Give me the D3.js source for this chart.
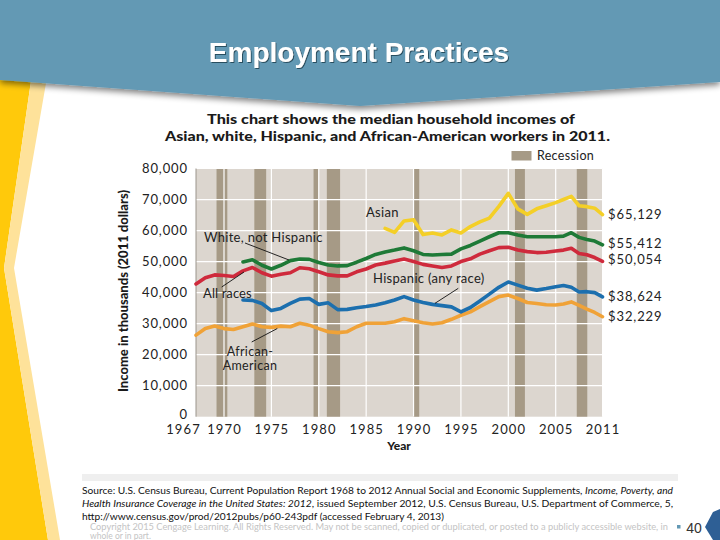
<!DOCTYPE html>
<html><head><meta charset="utf-8">
<script src="https://cdn.jsdelivr.net/npm/d3@7"></script>
<style>
html,body{margin:0;padding:0;background:#fff;}
svg{display:block;}
text{font-family:Lato,"DejaVu Sans",sans-serif;}
</style></head>
<body>
<svg id="c" width="720" height="540"></svg>
<script>
// ---------- DATA ----------
const yearTicks = [1967,1970,1975,1980,1985,1990,1995,2000,2005,2011];
const incomeTicks = [0,10000,20000,30000,40000,50000,60000,70000,80000];
const recessions = [[1969.2,1970.35],[1973.2,1974.45],[1979.45,1979.95],[1980.85,1982.25],[1989.95,1990.6],[2000.7,2001.75],[2007.7,2009.05]];

const yearsAllRaces = d3.range(1967, 2012);
const allRaces = [42800,44800,45700,45500,45200,47000,48100,46400,45300,45900,46400,48000,47700,46700,45700,45400,45400,46700,47600,48900,49500,50200,50800,50000,49100,48600,48100,48600,50000,50900,52400,53500,54500,54600,53700,53200,52900,53000,53400,53700,54300,52600,52200,51300,50054];
const africanAmerican = [26300,28400,29200,28400,28100,29000,29900,29000,28800,29200,29000,30100,29500,28400,27400,27100,27400,29000,30100,30100,30100,30600,31600,30900,30300,29900,30300,31400,32700,33800,35500,37100,38700,39200,38100,36800,36500,36100,36000,36300,37000,35900,34700,33600,32229];

const yearsFrom1972 = d3.range(1972, 2012);
const whiteNotHispanic = [49900,50600,48800,47600,48800,50300,50800,50700,49700,48900,48600,48700,49800,51000,52300,53100,53700,54400,53500,52300,52100,52300,52400,54100,55200,56600,58000,59300,59300,58600,58000,58000,58000,58000,58200,59300,57800,57100,56600,55412];
const hispanic = [37600,37500,36500,34200,34900,36500,37900,38100,36200,36700,34500,34600,35100,35500,36000,36700,37600,38700,37600,36800,36200,35800,35400,33800,35200,37300,39500,41700,43400,42400,41400,40800,41300,41900,42300,41700,40200,40300,40000,38624];

const yearsAsian = d3.range(1987, 2012);
const asian = [60700,59400,63100,63500,58700,59200,58600,60200,59200,61300,62800,64000,67800,72000,67000,65200,67000,68000,69000,70000,71000,68000,67700,67200,65129];

const seriesNames = ["Asian","White, not Hispanic","All races","Hispanic (any race)","African-American"];
const endLabels = ["$65,129","$55,412","$50,054","$38,624","$32,229"];

// ---------- SETUP ----------
const svg = d3.select("#c");
const defs = svg.append("defs");
const sh = defs.append("filter").attr("id","sh").attr("x","-10%").attr("y","-10%").attr("width","120%").attr("height","140%");
sh.append("feGaussianBlur").attr("in","SourceAlpha").attr("stdDeviation",3);
sh.append("feOffset").attr("dy",3).attr("result","b");
sh.append("feComponentTransfer").append("feFuncA").attr("type","linear").attr("slope",0.5);
const m = sh.append("feMerge"); m.append("feMergeNode"); m.append("feMergeNode").attr("in","SourceGraphic");
const ts = defs.append("filter").attr("id","ts");
ts.append("feDropShadow").attr("dx",1).attr("dy",1).attr("stdDeviation",0.6).attr("flood-color","#1d3a4a").attr("flood-opacity",0.8);

// slide decorations
svg.append("polygon").attr("points","0,60 34,60 4,268 48,540 0,540").attr("fill","#ffc90b");
svg.append("polygon").attr("points","34,60 50,60 14,268 60,540 48,540 4,268").attr("fill","#fee29a");
svg.append("polygon").attr("points","0,0 720,0 720,82 360,106 0,80").attr("fill","#6399b4").attr("filter","url(#sh)");
svg.append("text").attr("x",359).attr("y",62).attr("text-anchor","middle")
  .style("font-family","'Liberation Sans',Arial,sans-serif").style("font-weight","bold").style("font-size","28px")
  .attr("fill","#fff").attr("filter","url(#ts)").text("Employment Practices");

// ---------- SCALES ----------
const x = d3.scaleLinear().domain([1967,1970,2005,2011]).range([196,224,555.7,602.5]);
const y = d3.scaleLinear().domain([0,80000]).range([416.7,168.5]);
const colors = d3.scaleOrdinal().domain(seriesNames).range(["#f4cf27","#1e7a37","#cf2a3c","#1c6fae","#f0a237"]);

// chart titles
svg.append("text").attr("x",391).attr("y",124).attr("text-anchor","middle")
  .style("font-weight",900).style("font-size","13.5px").attr("fill","#1a1a1a")
  .attr("textLength",368).attr("lengthAdjust","spacingAndGlyphs").text("This chart shows the median household incomes of");
svg.append("text").attr("x",387.5).attr("y",141).attr("text-anchor","middle")
  .style("font-weight",900).style("font-size","13.5px").attr("fill","#1a1a1a")
  .attr("textLength",445).attr("lengthAdjust","spacingAndGlyphs").text("Asian, white, Hispanic, and African-American workers in 2011.");

// legend
svg.append("rect").attr("x",511.5).attr("y",151).attr("width",20).attr("height",9.5).attr("fill","#a69a86");
svg.append("text").attr("x",537).attr("y",159.5).style("font-size","12.5px").attr("fill","#222")
  .style("letter-spacing","0.3px").text("Recession");

// plot background
svg.append("rect").attr("x",x(1967)).attr("y",y(80000)).attr("width",x(2011)-x(1967)).attr("height",y(0)-y(80000)).attr("fill","#dcd6cf");

// recession bars
svg.append("g").selectAll("rect").data(recessions).join("rect")
  .attr("x",d=>x(d[0])).attr("width",d=>x(d[1])-x(d[0]))
  .attr("y",y(80000)).attr("height",y(0)-y(80000)).attr("fill","#a69a86");

// gridlines
const g = svg.append("g");
g.selectAll("line.h").data(incomeTicks.filter(d=>d>0)).join("line").attr("class","h")
  .attr("x1",x(1967)).attr("x2",x(2011)).attr("y1",d=>y(d)).attr("y2",d=>y(d))
  .attr("stroke","#fff").attr("stroke-width",1.2);
g.selectAll("line.v").data(yearTicks.slice(1,-1)).join("line").attr("class","v")
  .attr("y1",y(0)).attr("y2",y(80000)).attr("x1",d=>x(d)).attr("x2",d=>x(d))
  .attr("stroke","#fff").attr("stroke-width",1.2);
svg.append("line").attr("x1",x(1967)).attr("x2",x(1967)).attr("y1",y(0)).attr("y2",y(80000)).attr("stroke","#9a948c").attr("stroke-width",1);
svg.append("line").attr("x1",x(2011)).attr("x2",x(2011)).attr("y1",y(0)).attr("y2",y(80000)).attr("stroke","#fff").attr("stroke-width",1);

// axes (labels only)
const yAxis = d3.axisLeft(y).tickValues(incomeTicks).tickFormat(d3.format(",")).tickSize(0).tickPadding(8);
const ya = svg.append("g").attr("transform",`translate(${x(1967)},0)`).call(yAxis);
ya.select(".domain").remove();
ya.selectAll("text").style("font-family","Lato,sans-serif").style("font-size","13px").style("letter-spacing","0.9px").attr("fill","#222")
  .attr("dy",d=>d===0?"0.1em":"0.32em");

const xAxis = d3.axisBottom(x).tickValues(yearTicks).tickFormat(d3.format("d")).tickSize(0).tickPadding(8);
const xa = svg.append("g").attr("transform",`translate(0,${y(0)})`).call(xAxis);
xa.select(".domain").remove();
xa.selectAll("text").style("font-family","Lato,sans-serif").style("font-size","13px").style("letter-spacing","1.1px").attr("fill","#222")
  .attr("dx",d=>d===1967?-13:0);

svg.append("text").attr("x",399).attr("y",450).attr("text-anchor","middle").style("font-weight",900).style("font-size","12px").attr("fill","#1a1a1a").text("Year");
svg.append("text").attr("transform","translate(128,291) rotate(-90)").attr("text-anchor","middle")
  .style("font-weight",900).style("font-size","12.5px").attr("fill","#1a1a1a")
  .attr("textLength",202).attr("lengthAdjust","spacingAndGlyphs").text("Income in thousands (2011 dollars)");

// lines
const line = d3.line().x(d=>x(d[0])).y(d=>y(d[1])).curve(d3.curveLinear);
const series = [
  {name:"African-American", years:yearsAllRaces, vals:africanAmerican},
  {name:"Hispanic (any race)", years:yearsFrom1972, vals:hispanic},
  {name:"All races", years:yearsAllRaces, vals:allRaces},
  {name:"White, not Hispanic", years:yearsFrom1972, vals:whiteNotHispanic},
  {name:"Asian", years:yearsAsian, vals:asian}
];
svg.append("g").selectAll("path").data(series).join("path")
  .attr("d",s=>line(s.years.map((yr,i)=>[yr,s.vals[i]])))
  .attr("fill","none").attr("stroke",s=>colors(s.name)).attr("stroke-width",3.6)
  .attr("stroke-linejoin","round").attr("stroke-linecap","round");

// end labels
const endVals = [asian[asian.length-1], whiteNotHispanic[whiteNotHispanic.length-1], allRaces[allRaces.length-1], hispanic[hispanic.length-1], africanAmerican[africanAmerican.length-1]];
const endOffsets = [0,-1,-2,0,0];
svg.append("g").selectAll("text").data(endLabels).join("text")
  .attr("x",608).attr("y",(d,i)=>y(endVals[i])+endOffsets[i]).attr("dy","0.35em")
  .style("font-size","13px").style("letter-spacing","0.9px").attr("fill","#222").text(d=>d);

// annotations
const ann = svg.append("g").style("font-size","13px").attr("fill","#222");
ann.append("text").attr("x",366).attr("y",217).style("letter-spacing","0.3px").text("Asian");
ann.append("text").attr("x",204).attr("y",242).style("letter-spacing","0.3px").text("White, not Hispanic");
ann.append("text").attr("x",203).attr("y",298).style("letter-spacing","0.1px").text("All races");
ann.append("text").attr("x",250).attr("y",356).attr("text-anchor","middle").style("font-size","12.5px").style("letter-spacing","0.3px").text("African-");
ann.append("text").attr("x",250).attr("y",369.5).attr("text-anchor","middle").style("font-size","12.5px").style("letter-spacing","0.3px").text("American");
ann.append("text").attr("x",373).attr("y",283).style("letter-spacing","0.3px").text("Hispanic (any race)");
const leaders = [[245,243,289,260],[221.7,287,244,272],[251.7,342,277.3,328.5],[435,303.3,458.3,288.3]];
svg.append("g").selectAll("line").data(leaders).join("line")
  .attr("x1",d=>d[0]).attr("y1",d=>d[1]).attr("x2",d=>d[2]).attr("y2",d=>d[3])
  .attr("stroke","#111").attr("stroke-width",0.9);

// source
svg.append("rect").attr("x",82).attr("y",474).attr("width",596).attr("height",7).attr("fill","#efefef");
const src = svg.append("g").style("font-family","'Liberation Sans',Arial,sans-serif").style("font-size","10px").attr("fill","#111");
const s1 = src.append("text").attr("x",82).attr("y",494).attr("textLength",591).attr("lengthAdjust","spacingAndGlyphs");
s1.append("tspan").text("Source: U.S. Census Bureau, Current Population Report 1968 to 2012 Annual Social and Economic Supplements, ");
s1.append("tspan").style("font-style","italic").text("Income, Poverty, and");
const s2 = src.append("text").attr("x",82).attr("y",507).attr("textLength",591).attr("lengthAdjust","spacingAndGlyphs");
s2.append("tspan").style("font-style","italic").text("Health Insurance Coverage in the United States: 2012");
s2.append("tspan").text(", issued September 2012, U.S. Census Bureau, U.S. Department of Commerce, 5,");
src.append("text").attr("x",82).attr("y",520).attr("textLength",362).attr("lengthAdjust","spacingAndGlyphs")
  .text("http://www.census.gov/prod/2012pubs/p60-243pdf (accessed February 4, 2013)");

const cp = svg.append("g").style("font-family","'Liberation Sans',Arial,sans-serif").style("font-size","8.5px").attr("fill","#c4c4c4");
cp.append("text").attr("x",90).attr("y",529.5).attr("textLength",578).attr("lengthAdjust","spacingAndGlyphs")
  .text("Copyright 2015 Cengage Learning. All Rights Reserved. May not be scanned, copied or duplicated, or posted to a publicly accessible website, in");
cp.append("text").attr("x",90).attr("y",538.5).text("whole or in part.");

svg.append("rect").attr("x",677).attr("y",525).attr("width",3.5).attr("height",3.5).attr("fill","#6399b4");
svg.append("text").attr("x",694).attr("y",533).attr("text-anchor","middle").style("font-family","'Liberation Sans',Arial,sans-serif").style("font-size","14px").attr("fill","#333").text("40");
svg.append("polygon").attr("points","713,512 720,509 720,540 713,540 705,527").attr("fill","#2e5f95");
</script>
</body></html>
